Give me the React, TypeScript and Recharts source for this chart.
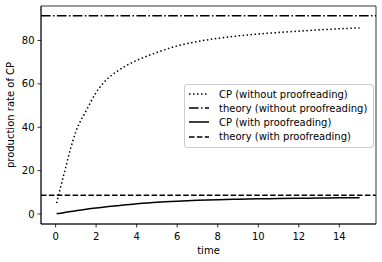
import React from "react";
import {
  LineChart,
  Line,
  XAxis,
  YAxis,
  ReferenceLine,
  ReferenceArea,
  Legend,
} from "recharts";

// values
const TIME = [0.05, 0.25, 0.5, 0.75, 1, 1.5, 2, 2.5, 3, 3.5, 4, 5, 6, 7, 8, 9, 10, 11, 12, 13, 14, 15];
const CP_NO_PROOF = [5, 12.5, 21.5, 30.5, 38, 47.5, 56, 61.8, 65.6, 68.5, 70.8, 74.5, 77.5, 79.5, 81, 82.1, 83, 83.7, 84.3, 84.9, 85.4, 85.8];
const CP_PROOF = [0.2, 0.4, 0.8, 1.15, 1.5, 2.2, 2.8, 3.3, 3.8, 4.3, 4.7, 5.4, 5.9, 6.3, 6.6, 6.8, 7.0, 7.1, 7.25, 7.35, 7.45, 7.5];
const THEORY_NO_PROOF = 91.4;
const THEORY_PROOF = 8.7;

const X_TICKS = [0, 2, 4, 6, 8, 10, 12, 14];
const Y_TICKS = [0, 20, 40, 60, 80];
const X_DOMAIN: [number, number] = [-0.72, 15.81];
const Y_DOMAIN: [number, number] = [-4.6, 95.9];

const data = TIME.map((t, i) => ({ t, a: CP_NO_PROOF[i], b: CP_PROOF[i] }));

const DOTTED = "1.5 2.5";
const DASHDOT = "9.6 2.4 1.5 2.4";
const DASHED = "5.5 2.4";

const LEGEND_ITEMS = [
  { label: "CP (without proofreading)", dash: DOTTED },
  { label: "theory (without proofreading)", dash: DASHDOT },
  { label: "CP (with proofreading)", dash: undefined },
  { label: "theory (with proofreading)", dash: DASHED },
];

const tickStyle = { fontSize: 10, fill: "#000", fontFamily: "DejaVu Sans" };

function LegendBox() {
  return (
    <div
      style={{
        border: "1px solid #cccccc",
        borderRadius: 3,
        background: "rgba(255,255,255,0.8)",
        padding: "2px 6px 3px 4px",
        fontFamily: "DejaVu Sans",
        fontSize: 10,
        color: "#000",
      }}
    >
      {LEGEND_ITEMS.map((it) => (
        <div key={it.label} style={{ display: "flex", alignItems: "center", height: 14.2 }}>
          <svg width={20} height={6} style={{ marginRight: 10 }}>
            <line x1={0} y1={3} x2={20} y2={3} stroke="#000" strokeWidth={1.5} strokeDasharray={it.dash} />
          </svg>
          <span style={{ whiteSpace: "nowrap" }}>{it.label}</span>
        </div>
      ))}
    </div>
  );
}

export default function App() {
  return (
    <div style={{ position: "absolute", left: 0, top: 0, fontFamily: "DejaVu Sans" }}>
      <LineChart width={382} height={262} data={data} margin={{ top: 6, right: 6, left: 0, bottom: 0 }}>
        <XAxis
          dataKey="t"
          type="number"
          domain={X_DOMAIN}
          ticks={X_TICKS}
          allowDataOverflow
          height={38}
          tick={tickStyle}
          tickSize={3.5}
          tickMargin={5}
          axisLine={{ stroke: "#000", strokeWidth: 0.8 }}
          tickLine={{ stroke: "#000", strokeWidth: 0.8 }}
          label={() => (
            <text x={208.5} y={253.6} textAnchor="middle" fontSize={10} fontFamily="DejaVu Sans" fill="#000">
              time
            </text>
          )}
        />
        <YAxis
          type="number"
          domain={Y_DOMAIN}
          ticks={Y_TICKS}
          allowDataOverflow
          width={41}
          tick={tickStyle}
          tickSize={3.5}
          tickMargin={3}
          axisLine={{ stroke: "#000", strokeWidth: 0.8 }}
          tickLine={{ stroke: "#000", strokeWidth: 0.8 }}
          label={() => (
            <text
              x={10.5}
              y={115}
              transform="rotate(-90 10.5 115)"
              textAnchor="middle"
              dominantBaseline="central"
              fontSize={10}
              fontFamily="DejaVu Sans"
              fill="#000"
            >
              production rate of CP
            </text>
          )}
        />
        <ReferenceArea
          x1={X_DOMAIN[0]}
          x2={X_DOMAIN[1]}
          y1={Y_DOMAIN[0]}
          y2={Y_DOMAIN[1]}
          fill="none"
          stroke="#000"
          strokeWidth={0.8}
          ifOverflow="visible"
        />
        <ReferenceLine y={THEORY_NO_PROOF} stroke="#000" strokeWidth={1.5} strokeDasharray={DASHDOT} />
        <ReferenceLine y={THEORY_PROOF} stroke="#000" strokeWidth={1.5} strokeDasharray={DASHED} />
        <Line dataKey="a" type="monotone" stroke="#000" strokeWidth={1.5} strokeDasharray={DOTTED} dot={false} isAnimationActive={false} />
        <Line dataKey="b" type="monotone" stroke="#000" strokeWidth={1.5} dot={false} isAnimationActive={false} />
        <Legend
          layout="vertical"
          align="center"
          verticalAlign="middle"
          content={() => <LegendBox />}
          wrapperStyle={{ position: "absolute", left: 184, top: 84, width: "auto", height: "auto" }}
        />
      </LineChart>
    </div>
  );
}
